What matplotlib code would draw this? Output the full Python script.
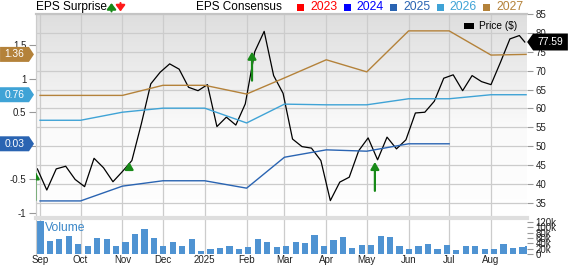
import numpy as np
import pandas as pd
import matplotlib
matplotlib.use("Agg")
import matplotlib.pyplot as plt
from matplotlib.path import Path
from matplotlib import transforms
from matplotlib.patches import Rectangle
from matplotlib.colors import LinearSegmentedColormap

plt.rcParams['font.family'] = ['Liberation Sans', 'DejaVu Sans']

W, H, DPI = 568, 266, 100

# weekly closes (Fridays) + last trading day
price_dates = list(pd.date_range('2024-08-30', periods=52, freq='7D')) + [pd.Timestamp('2025-08-26')]
price = [44.0, 38.4, 44.0, 44.7, 41.2, 39.3, 46.8, 44.3, 40.6, 43.3, 46.2, 55.9, 66.5,
         69.6, 71.8, 70.4, 65.6, 64.7, 66.3, 55.2, 57.7, 55.6, 61.2, 75.0, 80.4, 68.7,
         64.0, 51.9, 49.9, 49.5, 46.2, 35.6, 40.5, 41.8, 48.8, 52.2, 46.4, 52.4, 49.3,
         51.7, 58.8, 59.0, 61.9, 68.0, 68.9, 64.7, 68.7, 67.1, 66.3, 72.2, 78.4, 79.3, 77.59]
volume_k = [123, 50, 55, 66, 39, 30, 61, 56, 30, 44, 76, 92, 61, 30, 44, 31, 55, 13, 18,
            22, 31, 20, 26, 57, 45, 26, 30, 46, 40, 69, 29, 51, 65, 21, 32, 32, 66, 63,
            29, 20, 28, 37, 20, 35, 16, 29, 29, 20, 20, 39, 24, 26, 28]

month_ticks = pd.date_range('2024-09-01', '2025-08-01', freq='MS')
month_labels = ['Sep', 'Oct', 'Nov', 'Dec', '2025', 'Feb', 'Mar', 'Apr', 'May', 'Jun', 'Jul', 'Aug']

# EPS consensus by fiscal year (monthly snapshots)
cons_dates = list(month_ticks) + [pd.Timestamp('2025-08-27')]
eps_2025 = [-0.82, -0.82, -0.60, -0.52, -0.52, -0.63, -0.17, -0.06, -0.08, 0.03, 0.03]
eps_2026 = [0.38, 0.38, 0.50, 0.56, 0.56, 0.34, 0.62, 0.61, 0.61, 0.70, 0.70, 0.76, 0.76]
eps_2027 = [0.75, 0.75, 0.75, 0.90, 0.90, 0.77, 1.01, 1.28, 1.10, 1.71, 1.71, 1.35, 1.36]

# EPS surprises: consensus -> actual
surprise_dates = [pd.Timestamp(d) for d in
                  ('2024-08-28 12:00', '2024-11-06', '2025-02-05', '2025-05-07')]
surprise_from = [-0.81, -0.36, 0.97, -0.67]
surprise_to = [-0.38, -0.24, 1.40, -0.24]

years = ['2023', '2024', '2025', '2026', '2027']
year_colors = ['#ff0000', '#0000ff', '#2a64b2', '#3fa3d6', '#b4823a']

c_grid = '#cccccc'
c_text = '#222222'


def fx(x):
    return x / W


def fy(y):
    return 1 - y / H


def tag(point_right, body_pad=4.5, half_h=7.5, tip=5):
    def style(x0, y0, width, height, mutation_size):
        cy = y0 + height / 2
        xl, xr = x0 - body_pad, x0 + width + body_pad
        b, t = cy - half_h, cy + half_h
        if point_right:
            v = [(xl, b), (xr, b), (xr + tip, cy), (xr, t), (xl, t), (xl, b)]
        else:
            v = [(xl, b), (xr, b), (xr, t), (xl, t), (xl - tip, cy), (xl, b)]
        return Path(v, closed=True)
    return style


fig = plt.figure(figsize=(W / DPI, H / DPI), dpi=DPI)
fig.patch.set_facecolor('white')

rect_p = [fx(36), fy(218), fx(491), 204 / H]
rect_v = [fx(36), fy(254), fx(491), 36 / H]

# gradient background
bg = fig.add_axes(rect_p)
grad = np.linspace(0, 1, 256).reshape(-1, 1)
cmap = LinearSegmentedColormap.from_list('bg', [(0, '#ffffff'), (0.45, '#fafafa'), (1, '#dedede')])
bg.imshow(grad, cmap=cmap, aspect='auto', origin='lower', extent=[0, 1, 0, 1])
bg.axis('off')

ax_p = fig.add_axes(rect_p)
ax_p.patch.set_visible(False)
ax_e = ax_p.twinx()
ax_v = fig.add_axes(rect_v, sharex=ax_p)

# price
ax_p.plot(price_dates, price, color='black', lw=0.9, zorder=3)
ax_p.set_ylim(31.0, 85)
ax_p.set_yticks(range(35, 90, 5))
ax_p.yaxis.tick_right()
ax_p.tick_params(axis='y', length=4, color='#999999', labelsize=7, labelcolor=c_text, pad=2)
ax_p.set_xticks(month_ticks)
ax_p.tick_params(axis='x', length=0, labelbottom=False)
ax_p.grid(True, color=c_grid, lw=0.9)
ax_p.set_axisbelow(True)

# consensus lines
ax_e.plot(cons_dates[:len(eps_2025)], eps_2025, color=year_colors[2], lw=1.0)
ax_e.plot(cons_dates, eps_2026, color=year_colors[3], lw=1.0)
ax_e.plot(cons_dates, eps_2027, color=year_colors[4], lw=1.0)
for d, a, b in zip(surprise_dates, surprise_from, surprise_to):
    ann = ax_e.annotate('', xy=(d, b), xytext=(d, a), annotation_clip=False,
                        arrowprops=dict(arrowstyle='-|>,head_length=0.6,head_width=0.35',
                                        color='#188a18', lw=1.6, shrinkA=0, shrinkB=0,
                                        mutation_scale=7))
    ann.arrow_patch.set_clip_box(ax_e.bbox)
    ann.arrow_patch.set_clip_on(True)
ax_e.set_ylim(-1.074, 1.961)
ax_e.set_yticks([-1, -0.5, 0, 0.5, 1, 1.5])
ax_e.set_yticklabels(['-1', '-0.5', '0', '0.5', '1', '1.5'])
ax_e.yaxis.tick_left()
ax_e.tick_params(axis='y', length=5, color='#999999', labelsize=7, labelcolor=c_text, pad=2)

for ax in (ax_p, ax_e):
    for s in ('right', 'bottom'):
        ax.spines[s].set_visible(False)
    ax.spines['left'].set_color(c_grid)
    ax.spines['top'].set_color('#c4c4c4')
    ax.spines['top'].set_linewidth(1.5)

xmin, xmax = pd.Timestamp('2024-08-29'), pd.Timestamp('2025-08-27 16:00')
ax_p.set_xlim(xmin, xmax)

# volume
ax_v.bar(price_dates, volume_k, width=4.6, align='edge', color='#4f93d2', zorder=2)
ax_v.set_ylim(0, 134)
ax_v.set_yticks(range(0, 140, 20))
ax_v.set_yticklabels(['0'] + [f'{k}k' for k in range(20, 140, 20)])
ax_v.yaxis.tick_right()
ax_v.tick_params(axis='y', length=4, color='#999999', labelsize=7, labelcolor=c_text, pad=2)
ax_v.set_xticks(month_ticks)
ax_v.set_xticklabels(month_labels)
ax_v.tick_params(axis='x', length=0, labelsize=7, labelcolor=c_text, pad=0.5)
ax_v.grid(True, axis='x', color=c_grid, lw=0.9)
ax_v.set_axisbelow(True)
for s in ('right', 'bottom'):
    ax_v.spines[s].set_visible(False)
ax_v.spines['left'].set_color(c_grid)
ax_v.spines['top'].set_color('#dedede')
ax_v.spines['top'].set_linewidth(3)
ax_v.set_xlim(xmin, xmax)
ax_v.text(0.018, 0.72, 'Volume', transform=ax_v.transAxes, color='#3a87c8',
          fontsize=8.7, va='center', ha='left')

# value tags
tr_e = transforms.blended_transform_factory(fig.transFigure, ax_e.transData)
for vals, col in ((eps_2027, year_colors[4]), (eps_2026, year_colors[3]), (eps_2025, year_colors[2])):
    fig.text(fx(14.5), vals[-1], f'{vals[-1]:.2f}', transform=tr_e, ha='center', va='center',
             color='white', fontsize=7.4,
             bbox=dict(boxstyle=tag(True), fc=col, ec='none'))
tr_p = transforms.blended_transform_factory(fig.transFigure, ax_p.transData)
fig.text(fx(550.5), price[-1], f'{price[-1]:.2f}', transform=tr_p, ha='center', va='center',
         color='white', fontsize=7.4,
         bbox=dict(boxstyle=tag(False, body_pad=4.5, half_h=8.5, tip=6), fc='black', ec='none'))

# header legend
fig.text(fx(36), fy(7), 'EPS Surprise', fontsize=8.6, color='black', va='center', ha='left')
for x0, y0, y1, col in ((111.5, 11.5, 3.0, '#188a18'), (120.5, 3.0, 11.5, '#ff1a1a')):
    fig.add_artist(matplotlib.text.Annotation(
        '', xy=(x0, H - y1), xytext=(x0, H - y0), xycoords='figure pixels',
        textcoords='figure pixels',
        arrowprops=dict(arrowstyle='-|>,head_length=0.6,head_width=0.45', color=col,
                        lw=1.5, shrinkA=0, shrinkB=0, mutation_scale=6)))
fig.text(fx(196), fy(7), 'EPS Consensus', fontsize=8.5, color='black', va='center', ha='left')
for i, (yr, col) in enumerate(zip(years, year_colors)):
    x0 = 297 + 46.5 * i
    fig.add_artist(Rectangle((fx(x0), fy(10.5)), fx(7), 7 / H, transform=fig.transFigure,
                             facecolor=col, edgecolor='none'))
    fig.text(fx(x0 + 13), fy(7), yr, fontsize=8.8, color=col, va='center', ha='left')

# price legend
fig.add_artist(Rectangle((fx(464), fy(28.5)), fx(10), 5 / H, transform=fig.transFigure,
                         facecolor='black', edgecolor='none'))
fig.text(fx(479), fy(26), 'Price ($)', fontsize=7.3, color='black', va='center', ha='left')

fig.savefig('out.png', dpi=DPI)
